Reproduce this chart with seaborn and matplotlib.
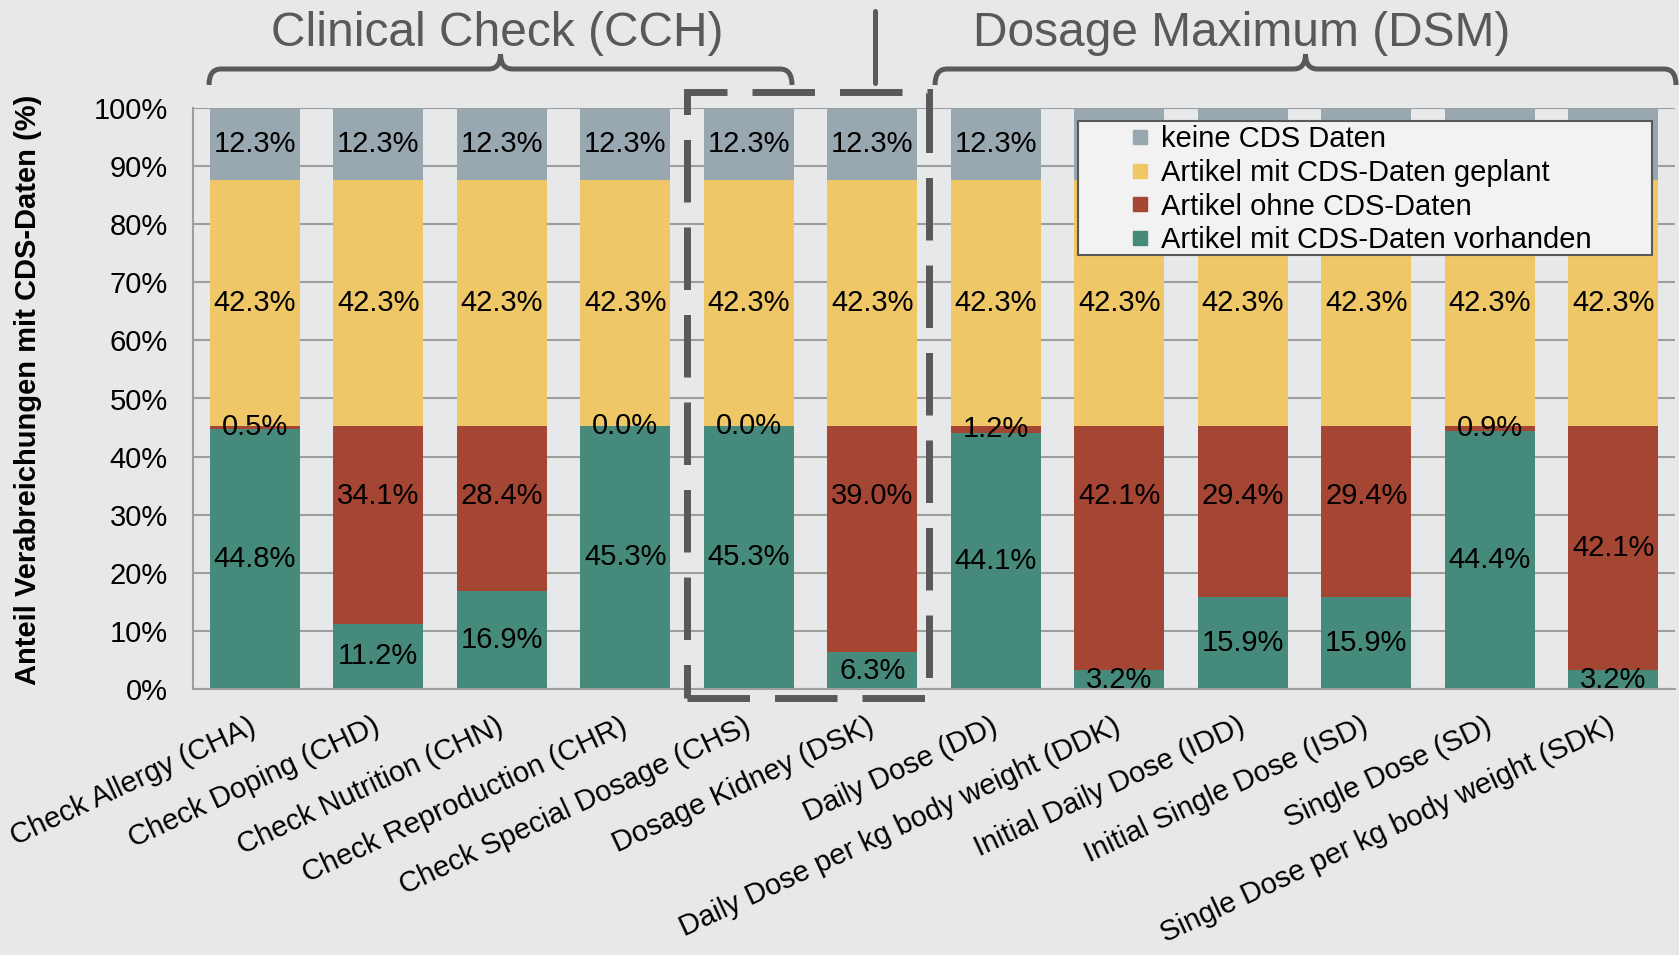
import numpy as np
import matplotlib.pyplot as plt
import seaborn as sns
from matplotlib.lines import Line2D
from matplotlib.patches import Rectangle, PathPatch
from matplotlib.path import Path

# Bildgroesse in Pixel
W, H = 1679, 955

# Daten
categories = ["Check Allergy (CHA)", "Check Doping (CHD)", "Check Nutrition (CHN)",
              "Check Reproduction (CHR)", "Check Special Dosage (CHS)", "Dosage Kidney (DSK)",
              "Daily Dose (DD)", "Daily Dose per kg body weight (DDK)",
              "Initial Daily Dose (IDD)", "Initial Single Dose (ISD)", "Single Dose (SD)",
              "Single Dose per kg body weight (SDK)"]
vorhanden = [44.8, 11.2, 16.9, 45.3, 45.3, 6.3, 44.1, 3.2, 15.9, 15.9, 44.4, 3.2]
ohne = [0.5, 34.1, 28.4, 0.0, 0.0, 39.0, 1.2, 42.1, 29.4, 29.4, 0.9, 42.1]
geplant = [42.3, 42.3, 42.3, 42.3, 42.3, 42.3, 42.3, 42.3, 42.3, 42.3, 42.3, 42.3]
keine = [12.3, 12.3, 12.3, 12.3, 12.3, 12.3, 12.3, 12.3, 12.3, 12.3, 12.3, 12.3]

series_names = ["Artikel mit CDS-Daten vorhanden", "Artikel ohne CDS-Daten",
                "Artikel mit CDS-Daten geplant", "keine CDS Daten"]
series_values = [vorhanden, ohne, geplant, keine]
series_colors = ["#468A7B", "#A54533", "#EFC766", "#99A7B0"]

# im Original von Hand verschobene Beschriftungen (Serie "ohne"): Index -> Hoehe in %
ohne_label_moved = {1: 33.2, 2: 33.2, 5: 33.2, 7: 33.2, 8: 33.2, 9: 33.2}

group_titles = ["Clinical Check (CCH)", "Dosage Maximum (DSM)"]

bg = "#E7E8EA"
dark = "#595959"
gridc = "#9E9E9E"

sns.set_style("white", rc={"axes.facecolor": bg, "figure.facecolor": bg})
plt.rcParams["font.family"] = ["Liberation Sans", "DejaVu Sans"]
plt.rcParams["text.color"] = "black"
plt.rcParams["axes.labelcolor"] = "black"

fig = plt.figure(figsize=(W / 100, H / 100), dpi=100)
ax = fig.add_axes([193 / W, 1 - 689 / H, (1675 - 193) / W, (689 - 108) / H])

# gestapelte Balken
bottom = np.zeros(len(categories))
for name, vals, col in zip(series_names, series_values, series_colors):
    sns.barplot(x=categories, y=vals, bottom=bottom, color=col, width=0.73,
                errorbar=None, saturation=1, linewidth=0, edgecolor="none", ax=ax, zorder=2)
    moved = ohne_label_moved if vals is ohne else {}
    labels = ["" if i in moved else f"{v:.1f}%" for i, v in enumerate(vals)]
    ax.bar_label(ax.containers[-1], labels=labels, label_type="center", fontsize=21,
                 color="black")
    for i, y in moved.items():
        ax.text(i, y, f"{vals[i]:.1f}%", ha="center", va="center", fontsize=21,
                color="black", zorder=3)
    bottom = bottom + np.array(vals)

# Achsen
ax.set_ylim(0, 100)
ax.set_xlim(-0.5, len(categories) - 0.5)
ax.set_yticks(range(0, 101, 10))
ax.set_yticklabels([f"{t}%" for t in range(0, 101, 10)])
ax.yaxis.grid(True, color=gridc, lw=1.5)
ax.set_axisbelow(True)
ax.tick_params(axis="y", length=6, width=1.2, color=gridc, pad=12, labelsize=21,
               labelcolor="black")

ax.set_xticks(range(len(categories)))
ax.set_xticklabels(categories, rotation=25, ha="right", va="center",
                   rotation_mode="anchor", fontsize=21)
ax.set_xticks(np.arange(-0.5, len(categories), 1), minor=True)
ax.tick_params(axis="x", which="major", length=0, pad=26, labelcolor="black")
ax.tick_params(axis="x", which="minor", length=6, width=1.2, color=gridc)
ax.set_xlabel("")

for s in ["top", "right"]:
    ax.spines[s].set_visible(False)
for s in ["left", "bottom"]:
    ax.spines[s].set_color(gridc)
    ax.spines[s].set_linewidth(1.5)

ax.set_ylabel("Anteil Verabreichungen mit CDS-Daten (%)", fontsize=21, fontweight="bold")
ax.yaxis.set_label_coords((42 - 193) / 1482, (689 - 390) / 581)


def fx(x):
    return x / W


def fy(y):
    return 1 - y / H


def brace(x0, x1, yl, drop=16, rise=15, r=12):
    xm = (x0 + x1) / 2
    pts = [(x0, yl + drop), (x0, yl), (x0 + r, yl), (xm - r, yl), (xm, yl), (xm, yl - rise),
           (xm, yl - rise), (xm, yl), (xm + r, yl), (x1 - r, yl), (x1, yl), (x1, yl + drop)]
    codes = [Path.MOVETO, Path.CURVE3, Path.CURVE3, Path.LINETO, Path.CURVE3, Path.CURVE3,
             Path.MOVETO, Path.CURVE3, Path.CURVE3, Path.LINETO, Path.CURVE3, Path.CURVE3]
    verts = [(fx(a), fy(b)) for a, b in pts]
    return PathPatch(Path(verts, codes), fill=False, lw=3.6, edgecolor=dark,
                     transform=fig.transFigure, capstyle="butt")


fig.add_artist(brace(209, 792, 69))
fig.add_artist(brace(935, 1676, 69))
fig.add_artist(Line2D([fx(875), fx(875)], [fy(11), fy(83)], lw=3.6, color=dark,
                      transform=fig.transFigure))

# gestrichelter Rahmen um CHS / DSK
fig.add_artist(Rectangle((fx(687), fy(698)), (929 - 687) / W, (698 - 92) / H, fill=False,
                         edgecolor=dark, lw=5, linestyle=(0, (9, 3.6)),
                         transform=fig.transFigure, zorder=4))

fig.text(fx(497), fy(33), group_titles[0], ha="center", va="center", fontsize=34.5, color=dark)
fig.text(fx(1242), fy(33), group_titles[1], ha="center", va="center", fontsize=34.5, color=dark)

# Legende
fig.add_artist(Rectangle((fx(1078), fy(255)), 574 / W, 134 / H, facecolor="#F2F2F2",
                         edgecolor=dark, lw=1.5, transform=fig.transFigure, zorder=5))
handles = [Line2D([], [], marker="s", linestyle="none", color=c, markersize=9.4)
           for c in series_colors[::-1]]
leg = fig.legend(handles, series_names[::-1], loc="upper left",
                 bbox_to_anchor=(fx(1125), fy(125)), frameon=False, fontsize=21,
                 handlelength=1.0, handletextpad=0.25, labelspacing=0.2,
                 borderpad=0, borderaxespad=0)
leg.set_zorder(6)

fig.savefig("out.png", dpi=100, facecolor=bg)
